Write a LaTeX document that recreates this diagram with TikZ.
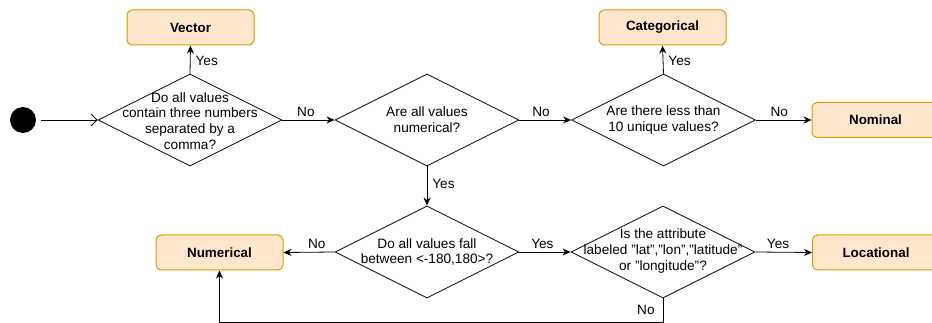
\documentclass[tikz,border=0pt]{standalone}
\usepackage{fontspec}
\setmainfont{Liberation Sans}
\usetikzlibrary{shapes.geometric,arrows.meta}
\definecolor{boxfill}{HTML}{FFE6CC}
\definecolor{boxline}{HTML}{D79B00}
\tikzset{
  x=1pt, y=-1pt,
  every node/.style={font=\fontsize{13.6}{15.8}\selectfont},
  result/.style={draw=boxline, fill=boxfill, rounded corners=5pt, line width=1pt,
    minimum width=127pt, minimum height=35pt, inner sep=0pt,
    font=\fontsize{13.4}{15.8}\selectfont\bfseries},
  decision/.style={draw, diamond, minimum width=184pt, minimum height=92pt,
    inner sep=0pt, line width=0.8pt},
  qtext/.style={align=center, inner sep=0pt},
  flow/.style={draw, line width=0.8pt, -{Stealth[length=8pt,width=7pt,inset=2.5pt]}},
  lbl/.style={inner sep=1pt},
}
\begin{document}
\begin{tikzpicture}
\useasboundingbox (0,0) rectangle (932,323);
\clip (0,0) rectangle (932,323);

% start state
\node[circle, fill=black, minimum size=26pt, inner sep=0pt] (start) at (23,120) {};

% decisions
\node[decision] (d1) at (190,120) {};
\node[qtext] at ([yshift=-1pt]d1) {Do all values\\contain three numbers\\separated by a\\comma?};
\node[decision] (d2) at (427,120) {};
\node[qtext] at (d2) {Are all values\\numerical?};
\node[decision] (d3) at (663.5,120) {};
\node[qtext] at (d3) {Are there less than\\10 unique values?};
\node[decision] (d4) at (427,252) {};
\node[qtext] at (d4) {Do all values fall\\between <-180,180>?};
\node[decision] (d5) at (663,252) {};
\node[qtext] at ([yshift=1pt]d5) {Is the attribute\\labeled "lat","lon","latitude"\\or "longitude"?};

% outcomes
\node[result] (vector) at (190.5,27.5) {Vector};
\node[result] (categorical) at (662.5,27.5) {Categorical};
\node[result] (nominal) at (875.5,120) {Nominal};
\node[result] (numerical) at (219.5,252.5) {Numerical};
\node[result] (locational) at (876,252.5) {Locational};

% connectors
\draw[line width=0.8pt, -{Straight Barb[length=6pt,width=12pt]}, shorten <=5pt] (start) -- (d1.west);
\draw[flow] (d1.north) -- (vector.south) node[lbl, pos=0.45, right=4pt] {Yes};
\draw[flow] (d1.east) -- (d2.west) node[lbl, pos=0.45, above=2pt] {No};
\draw[flow] (d2.east) -- (d3.west) node[lbl, pos=0.42, above=2pt] {No};
\draw[flow] (d3.north) -- (categorical.south) node[lbl, pos=0.45, right=4pt] {Yes};
\draw[flow] (d3.east) -- (nominal.west) node[lbl, pos=0.42, above=2pt] {No};
\draw[flow] (d2.south) -- (d4.north) node[lbl, pos=0.45, right=4pt] {Yes};
\draw[flow] (d4.west) -- (numerical.east) node[lbl, pos=0.35, above=2pt] {No};
\draw[flow] (d4.east) -- (d5.west) node[lbl, pos=0.45, above=2pt] {Yes};
\draw[flow] (d5.east) -- (locational.west) node[lbl, pos=0.4, above=2pt] {Yes};
\coordinate (loopR) at (d5.south |- 0,322);
\coordinate (loopL) at (numerical.south |- 0,322);
\draw[flow] (d5.south) -- (loopR) node[lbl, pos=0.5, left=7pt] {No} -- (loopL) -- (numerical.south);
\end{tikzpicture}
\end{document}
